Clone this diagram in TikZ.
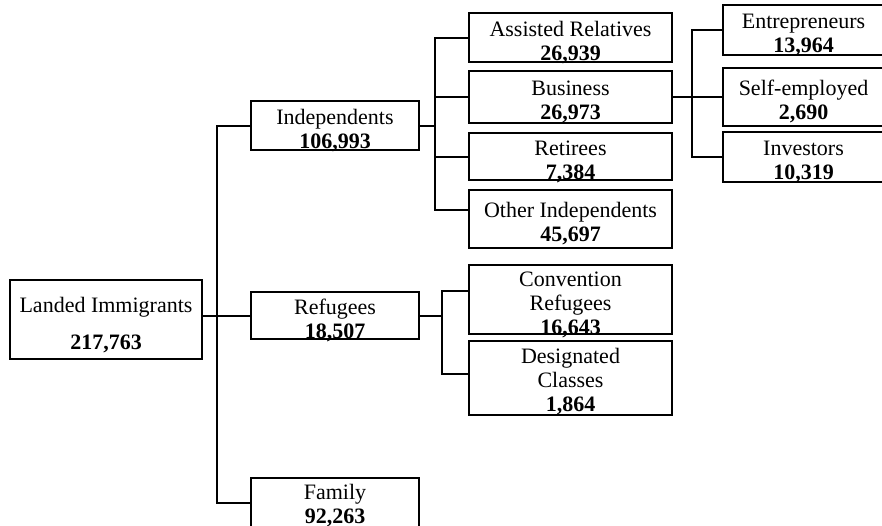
\documentclass[tikz,border=0pt]{standalone}
\usepackage{fontspec}
\setmainfont{Liberation Serif}
\newcommand{\lowtop}[1][12.5pt]{\rule{0pt}{#1}}

\begin{document}
\begin{tikzpicture}[x=0.5pt,y=-0.5pt,line width=1pt,
  every node/.style={font=\fontsize{11}{12}\selectfont},
  box/.style={draw, align=center, inner xsep=1pt, inner ysep=-6pt},
  mid/.style={box, minimum width=84pt},
  wide/.style={box, minimum width=101.5pt},
  outer/.style={box, minimum width=80.5pt}]
\clip (0,0) rectangle (882,525);
% root and first level
\node[box, minimum width=96pt, minimum height=39.5pt] (land) at (106,319.5) {\lowtop[13.5pt]Landed Immigrants\\[6.5pt]\textbf{217,763}};
\node[mid, minimum height=24.5pt] (indep) at (335,125.5) {\lowtop Independents\\\textbf{106,993}};
\node[mid, minimum height=23.5pt] (refug) at (335,315.5) {\lowtop Refugees\\\textbf{18,507}};
\node[mid, minimum height=24.5pt] (fam) at (335,502.5) {\lowtop[11pt]Family\\\textbf{92,263}};
% independents
\node[wide, minimum height=24.5pt] (assist) at (570.5,37.5) {\lowtop Assisted Relatives\\\textbf{26,939}};
\node[wide, minimum height=26pt] (busi) at (570.5,97) {\lowtop Business\\\textbf{26,973}};
\node[wide, minimum height=23.5pt] (reti) at (570.5,156.5) {\lowtop Retirees\\\textbf{7,384}};
\node[wide, minimum height=29pt] (other) at (570.5,219) {\lowtop Other Independents\\\textbf{45,697}};
% refugees
\node[wide, minimum height=34.5pt] (conv) at (570.5,299.5) {\lowtop Convention\\Refugees\\\textbf{16,643}};
\node[wide, minimum height=37pt] (desig) at (570.5,378) {\lowtop[11pt]Designated\\Classes\\\textbf{1,864}};
% business
\node[outer, minimum height=25pt] (entre) at (803.5,30) {\lowtop Entrepreneurs\\\textbf{13,964}};
\node[outer, minimum height=29pt] (self) at (803.5,97) {\lowtop Self-employed\\\textbf{2,690}};
\node[outer, minimum height=25pt] (inv) at (803.5,157) {\lowtop Investors\\\textbf{10,319}};

\coordinate (j1) at (217,316);
\coordinate (j2) at (435,125.5);
\coordinate (j3) at (692,97);
\coordinate (j4) at (442,315.5);

\draw (land.east |- refug.west) -- (refug.west);
\draw (indep.west) -| (j1) |- (fam.west);
\draw (indep.east) -- (j2);
\draw (assist.west) -| (j2) |- ([yshift=4.5pt]other.west);
\draw (j2 |- busi.west) -- (busi.west);
\draw (j2 |- reti.west) -- (reti.west);
\draw (busi.east) -- (self.west);
\draw (entre.west) -| (j3) |- (inv.west);
\draw (refug.east) -- (j4);
\draw ([yshift=4.25pt]conv.west) -| (j4) |- ([yshift=2pt]desig.west);
\end{tikzpicture}
\end{document}
